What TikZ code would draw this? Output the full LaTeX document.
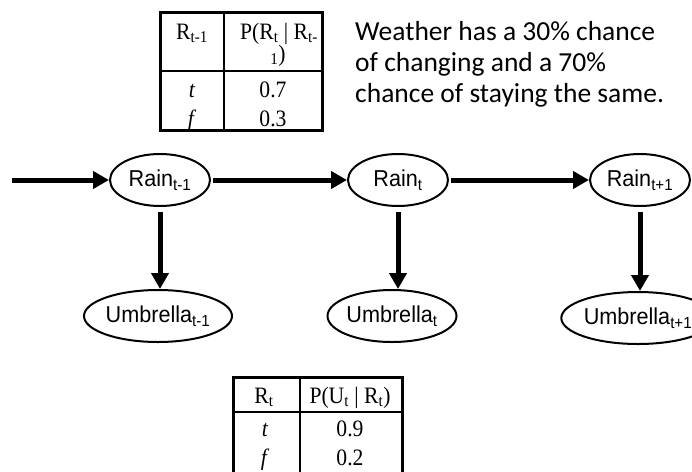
\documentclass[tikz,border=0pt]{standalone}
\usepackage{fontspec}
\setmainfont[FakeStretch=0.92]{Liberation Serif}
\newfontfamily\arialf[FakeStretch=0.94]{Liberation Sans}
\newfontfamily\calibf{Carlito}
\usetikzlibrary{arrows.meta,shapes.geometric}
\begin{document}
\begin{tikzpicture}[x=1pt,y=-1pt,
  arr/.style={line width=5pt, -{Triangle[length=16pt,width=17pt]}},
  state/.style={ellipse, draw, line width=2pt, inner sep=0pt, font=\arialf\fontsize{23}{27}\selectfont},
  rainnode/.style={state, minimum width=100pt, minimum height=52pt},
  umbnode/.style={state, minimum width=124pt, minimum height=52pt},
  cell/.style={anchor=base, inner sep=0pt, font=\fontsize{23.5}{27}\selectfont},
  outer/.style={line width=3pt},
  inner/.style={line width=1.2pt},
  note/.style={anchor=base west, inner sep=0pt, font=\calibf\fontsize{27.5}{31}\selectfont}
]
\useasboundingbox[fill=white] (0,0) rectangle (692,471);

% transition table
\draw[inner] (224,12) -- (224,130);
\draw[inner] (160,71) -- (322,71);
\draw[outer] (160,12) rectangle (322,130);
\node[cell] (th1) at (192,39) {R\textsubscript{t-1}};
\node[cell] (th2) at (279,39) {P(R\textsubscript{t} | R\textsubscript{t-}};
\node[cell] (th2b) at (278,61) {\textsubscript{1})};
\node[cell] (tt) at (192,97) {\textit{t}};
\node[cell] (tv1) at (273,97) {0.7};
\node[cell] (tf) at (192,126) {\textit{f}};
\node[cell] (tv2) at (273,126) {0.3};

% note
\node[note] (w1) at (355,40) {Weather has a 30\% chance};
\node[note] (w2) at (355,71) {of changing and a 70\%};
\node[note] (w3) at (355,102) {chance of staying the same.};

% states
\node[rainnode] (r1) at (160,180) {Rain\textsubscript{t-1}};
\node[rainnode] (r2) at (398,180) {Rain\textsubscript{t}};
\node[rainnode] (r3) at (640,180) {Rain\textsubscript{t+1}};
\node[umbnode] (u1) at (158,316) {Umbrella\textsubscript{t-1}};
\node[umbnode] (u2) at (392,316) {Umbrella\textsubscript{t}};
\node[umbnode] (u3) at (638,318) {Umbrella\textsubscript{t+1}};

\coordinate (in) at (12,180);
\draw[arr] (in) -- (r1);
\draw[arr, shorten <=2pt] (r1) -- (r2);
\draw[arr, shorten <=2pt] (r2) -- (r3);
\draw[arr, shorten <=5pt] (r1.south) -- (r1.south |- u1.north);
\draw[arr, shorten <=5pt] (r2.south) -- (r2.south |- u2.north);
\draw[arr, shorten <=5pt] (r3.south) -- (r3.south |- u3.north);

% sensor table
\draw[inner] (300,377) -- (300,480);
\draw[inner] (233,412) -- (402,412);
\draw[outer] (233,377) rectangle (402,480);
\node[cell] (sh1) at (264,403) {R\textsubscript{t}};
\node[cell] (sh2) at (350,403) {P(U\textsubscript{t} | R\textsubscript{t})};
\node[cell] (st) at (265,436) {\textit{t}};
\node[cell] (sv1) at (350,436) {0.9};
\node[cell] (sf) at (265,465) {\textit{f}};
\node[cell] (sv2) at (350,465) {0.2};
\end{tikzpicture}
\end{document}
